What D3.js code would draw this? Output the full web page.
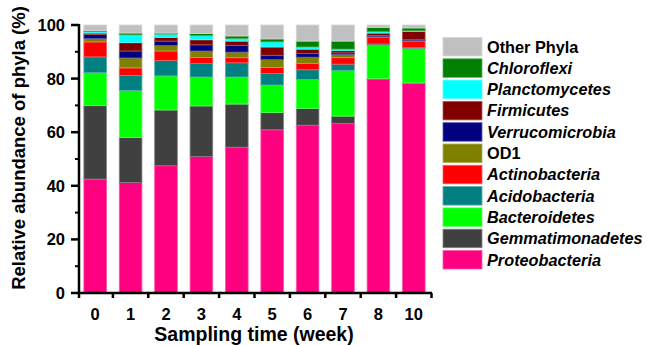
<!DOCTYPE html>
<html>
<head>
<meta charset="utf-8">
<script src="https://cdn.jsdelivr.net/npm/d3@7"></script>
<style>
  body { margin: 0; background: #fff; }
  text { font-family: Arial, "Liberation Sans", sans-serif; font-weight: bold; }
</style>
</head>
<body>
<div id="graph"></div>
<script>
// sampling weeks on the x axis
var weeks = ["0", "1", "2", "3", "4", "5", "6", "7", "8", "10"];

// phyla, bottom of the stack first
var phyla = ["Proteobacteria", "Gemmatimonadetes", "Bacteroidetes", "Acidobacteria",
    "Actinobacteria", "OD1", "Verrucomicrobia", "Firmicutes", "Planctomycetes",
    "Chloroflexi", "Other Phyla"];
var colors = ["#ff0080", "#404040", "#00ff00", "#008080", "#ff0000", "#808000",
    "#000080", "#800000", "#00ffff", "#008000", "#c0c0c0"];
var italicNames = [true, true, true, true, true, false, true, true, true, true, false];

// relative abundance (%) per week, one array per phylum
var proteobacteria   = [42.5, 41.2, 47.5, 50.9, 54.4, 60.9, 62.6, 63.3, 79.7, 78.2];
var gemmatimonadetes = [27.4, 16.8, 20.8, 18.9, 16.1, 6.4, 6.3, 2.7, 0.3, 0.2];
var bacteroidetes    = [12.3, 17.6, 12.7, 10.8, 10.1, 10.3, 10.8, 17.1, 12.4, 12.9];
var acidobacteria    = [5.9, 5.6, 5.8, 5.0, 5.3, 4.3, 3.6, 2.3, 0.5, 0.2];
var actinobacteria   = [5.6, 2.8, 3.5, 2.3, 1.9, 2.2, 2.4, 2.4, 2.6, 2.5];
var od1              = [1.2, 3.7, 2.1, 2.4, 2.1, 3.0, 2.3, 1.2, 0.1, 0.1];
var verrucomicrobia  = [1.5, 2.6, 1.6, 2.3, 2.5, 1.6, 1.4, 0.6, 0.4, 0.4];
var firmicutes       = [0.6, 3.1, 1.4, 1.9, 1.6, 3.1, 1.6, 0.9, 1.0, 3.1];
var planctomycetes   = [0.5, 2.9, 1.2, 1.5, 0.9, 1.9, 0.8, 0.5, 0.5, 0.2];
var chloroflexi      = [0.4, 0.7, 0.4, 0.8, 1.0, 1.1, 2.2, 3.0, 1.6, 1.1];
var otherPhyla       = [2.1, 3.0, 3.0, 3.2, 4.1, 5.2, 6.0, 6.0, 0.9, 1.1];

var series = [proteobacteria, gemmatimonadetes, bacteroidetes, acidobacteria,
    actinobacteria, od1, verrucomicrobia, firmicutes, planctomycetes,
    chloroflexi, otherPhyla];

var yTicks = [0, 20, 40, 60, 80, 100];
var yMinorTicks = [10, 30, 50, 70, 90];

// build rows for d3.stack
var table = weeks.map(function(w, i) {
    var row = {week: w};
    phyla.forEach(function(p, j) { row[p] = series[j][i]; });
    return row;
});

var svg = d3.select("#graph").append("svg")
    .attr("width", 647)
    .attr("height", 345);

var x = d3.scaleBand()
    .domain(weeks)
    .range([77.5, 431.5])
    .paddingInner(0.36)
    .paddingOuter(0.18);

var y = d3.scaleLinear().domain([0, 100]).range([293, 25]);

var color = d3.scaleOrdinal().domain(phyla).range(colors);

var stacked = d3.stack().keys(phyla)(table);

// bars
var layers = svg.append("g").selectAll("g")
    .data(stacked)
    .enter().append("g")
    .attr("fill", function(d) { return color(d.key); })
    .attr("stroke", function(d) { return d3.interpolateRgb(color(d.key), "#ffffff")(0.35); })
    .attr("stroke-width", 0.8);

layers.selectAll("rect")
    .data(function(d) { return d; })
    .enter().append("rect")
    .attr("x", function(d) { return x(d.data.week); })
    .attr("width", x.bandwidth())
    .attr("y", function(d) { return y(d[1]); })
    .attr("height", function(d) { return y(d[0]) - y(d[1]); });

// y axis
var yAxis = svg.append("g").attr("transform", "translate(79,0)");
yAxis.append("line")
    .attr("y1", y(100) - 1).attr("y2", y(0) + 1)
    .attr("stroke", "#000").attr("stroke-width", 2.5);
yAxis.selectAll(".major").data(yTicks).enter().append("line")
    .attr("x1", -8).attr("x2", 0)
    .attr("y1", function(d) { return y(d); })
    .attr("y2", function(d) { return y(d); })
    .attr("stroke", "#000").attr("stroke-width", 2.5);
yAxis.selectAll(".minor").data(yMinorTicks).enter().append("line")
    .attr("x1", -4).attr("x2", 0)
    .attr("y1", function(d) { return y(d); })
    .attr("y2", function(d) { return y(d); })
    .attr("stroke", "#000").attr("stroke-width", 2);
yAxis.selectAll("text").data(yTicks).enter().append("text")
    .attr("x", -14)
    .attr("y", function(d) { return y(d) + 6; })
    .attr("text-anchor", "end")
    .style("font-size", "16.5px")
    .text(function(d) { return d; });

// x axis
var step = x.step();
var xAxis = svg.append("g");
xAxis.append("line")
    .attr("x1", 78).attr("x2", 432)
    .attr("y1", y(0)).attr("y2", y(0))
    .attr("stroke", "#000").attr("stroke-width", 2.5);
var edges = [79].concat(weeks.slice(1).map(function(w) {
    return x(w) - (step - x.bandwidth()) / 2;
})).concat([431.5]);
xAxis.selectAll(".tick").data(edges).enter().append("line")
    .attr("x1", function(d) { return d; })
    .attr("x2", function(d) { return d; })
    .attr("y1", y(0)).attr("y2", y(0) + 5)
    .attr("stroke", "#000").attr("stroke-width", 2.5);
xAxis.selectAll("text").data(weeks).enter().append("text")
    .attr("x", function(d) { return x(d) + x.bandwidth() / 2; })
    .attr("y", 320)
    .attr("text-anchor", "middle")
    .style("font-size", "16.5px")
    .text(function(d) { return d; });

// axis titles
svg.append("text")
    .attr("transform", "translate(25,148) rotate(-90)")
    .attr("text-anchor", "middle")
    .style("font-size", "18.5px")
    .text("Relative abundance of phyla (%)");

svg.append("text")
    .attr("x", 254)
    .attr("y", 341)
    .attr("text-anchor", "middle")
    .style("font-size", "19.5px")
    .text("Sampling time (week)");

// legend, top entry is the top of the stack
var legendItems = phyla.slice().reverse();
var legend = svg.append("g").selectAll("g")
    .data(legendItems)
    .enter().append("g")
    .attr("transform", function(d, i) { return "translate(443," + (37.5 + i * 21.3) + ")"; });

legend.append("rect")
    .attr("width", 39)
    .attr("height", 18.5)
    .attr("fill", function(d) { return color(d); })
    .attr("stroke", function(d) { return d3.interpolateRgb(color(d), "#ffffff")(0.35); })
    .attr("stroke-width", 0.8);

legend.append("text")
    .attr("x", 44)
    .attr("y", 15)
    .style("font-size", "16.3px")
    .style("font-style", function(d) { return italicNames[phyla.indexOf(d)] ? "italic" : "normal"; })
    .text(function(d) { return d; });
</script>
</body>
</html>
